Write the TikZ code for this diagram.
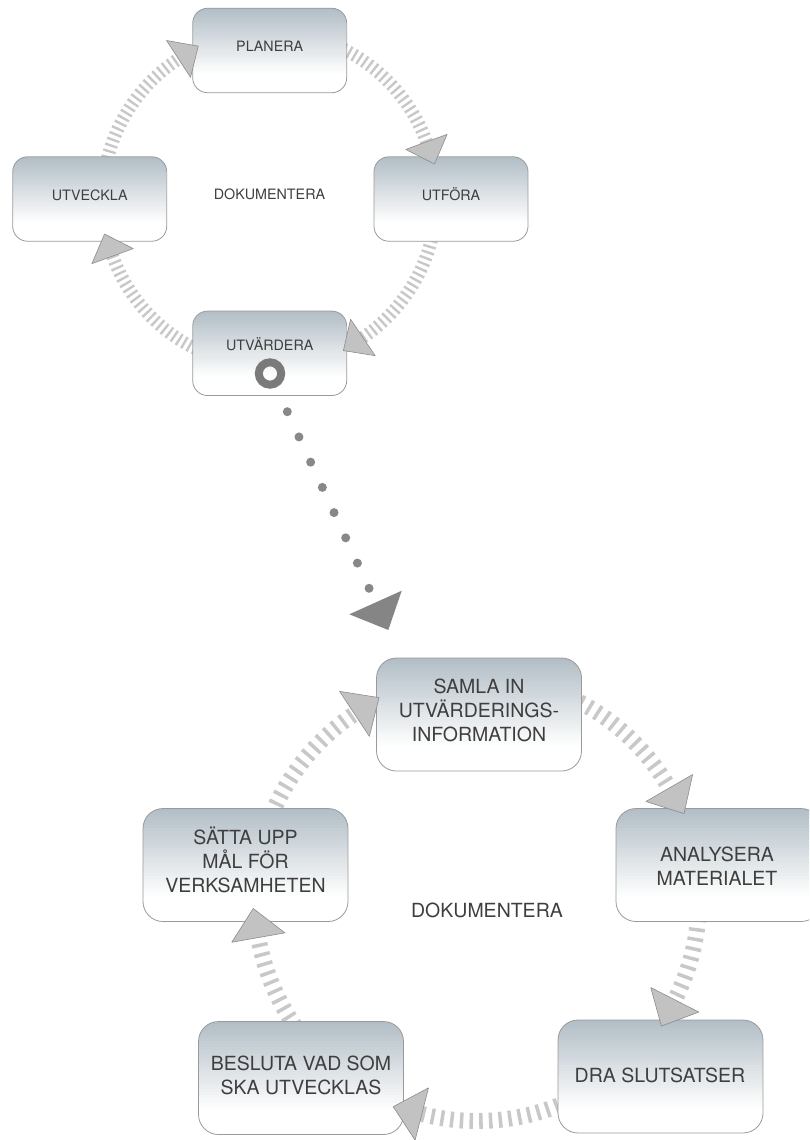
\documentclass[tikz,border=0pt]{standalone}
\usepackage{fontspec}
\setmainfont{TeX Gyre Heros}
\usetikzlibrary{calc}
\definecolor{boxtop}{HTML}{B2BEC6}
\definecolor{boxline}{HTML}{9A9A9A}
\definecolor{stripe}{HTML}{C8C8C8}
\definecolor{headfill}{HTML}{C2C2C2}
\definecolor{headline}{HTML}{8C8C8C}
\definecolor{txt}{HTML}{3E3E3E}
\definecolor{dotc}{HTML}{888888}
\definecolor{bighead}{HTML}{858585}
\definecolor{ringcol}{HTML}{7A7A7A}
\newcommand{\headtri}[6]{\filldraw[#6] ($(#1)+(#2:{#3+#4})$) -- ($(#1)+(#2:{#3-#4})$) -- ($(#1)+(#2:#3)+({#2+90}:#5)$) -- cycle;}
\begin{document}
\begin{tikzpicture}[x=1pt,y=-1pt,
  gradfill/.style={path picture={%
    \foreach \k in {0,...,40}{%
      \pgfmathsetmacro\pc{max(0,100*(1-\k/31))}%
      \fill[boxtop!\pc!white, sharp corners] ($(path picture bounding box.north west)!{\k/40}!(path picture bounding box.south west)$) rectangle ($(path picture bounding box.north east)!{(\k+1.2)/40}!(path picture bounding box.south east)$);
    }}},
  smallbox/.style={draw=boxline, line width=0.8pt, rounded corners=15pt, gradfill, minimum width=154pt, minimum height=84.5pt, inner sep=0pt},
  bigbox/.style={smallbox, rounded corners=20pt, minimum width=205pt, minimum height=113pt},
  smalltext/.style={anchor=base, inner sep=0pt, text=txt, font=\fontsize{14.3}{17}\selectfont},
  bigtext/.style={anchor=center, inner sep=0pt, text=txt, align=center, font=\fontsize{19.5}{24}\selectfont},
  stripeS/.style={draw=stripe, line width=13pt, dash pattern=on 2.4pt off 3.6pt},
  stripeL/.style={draw=stripe, line width=16pt, dash pattern=on 3.5pt off 6.2pt},
  headstyle/.style={fill=headfill, draw=headline, line width=0.6pt, line join=round},
  dotline/.style={draw=dotc, line width=9pt, line cap=round, dash pattern=on 0pt off 27.8pt},
  bigheadstyle/.style={fill=bighead},
  ringstyle/.style={draw=ringcol, line width=8pt}]
\useasboundingbox (0,0) rectangle (809,1140);
\clip (0,0) rectangle (809,1140);
\coordinate (c1) at (269.5,199);
\coordinate (c2) at (477,899);
% top cycle arcs
\draw[stripeS] (c1) ++(190:167) arc[start angle=190,end angle=237,radius=167];
\draw[stripeS] (c1) ++(292:167) arc[start angle=292,end angle=340,radius=167];
\draw[stripeS] (c1) ++(10:167) arc[start angle=10,end angle=56,radius=167];
\draw[stripeS] (c1) ++(112:167) arc[start angle=112,end angle=160,radius=167];
% bottom cycle arcs
\draw[stripeL] (c2) ++(200:222) arc[start angle=200,end angle=236.5,radius=222];
\draw[stripeL] (c2) ++(295:222) arc[start angle=295,end angle=330,radius=222];
\draw[stripeL] (c2) ++(0:222) arc[start angle=0,end angle=27,radius=222];
\draw[stripeL] (c2) ++(66:222) arc[start angle=66,end angle=104.4,radius=222];
\draw[stripeL] (c2) ++(140:222) arc[start angle=140,end angle=170,radius=222];
% boxes
\node[smallbox] (planera) at (269.7,50.5) {};
\node[smallbox] (utfora) at (451,199) {};
\node[smallbox] (utveckla) at (89.7,199) {};
\node[smallbox] (utvardera) at (269.7,353.3) {};
\node[bigbox] (samla) at (479,714.5) {};
\node[bigbox] (analys) at (718.5,865) {};
\node[bigbox] (dra) at (660.5,1076.5) {};
\node[bigbox] (besluta) at (301,1078) {};
\node[bigbox] (satta) at (245.5,865) {};
% texts
\node[smalltext] (tplanera) at (269.7,51.7) {PLANERA};
\node[smalltext] (tutfora) at (451,200) {UTFÖRA};
\node[smalltext] (tutveckla) at (89.7,200) {UTVECKLA};
\node[smalltext] (tutvardera) at (269.7,350) {UTVÄRDERA};
\node[smalltext] (tdok1) at (269.5,199.5) {DOKUMENTERA};
\node[bigtext] (tsamla) at (479,710.8) {SAMLA IN\\UTVÄRDERINGS-\\INFORMATION};
\node[bigtext] (tanalys) at (717,865.8) {ANALYSERA\\MATERIALET};
\node[bigtext] (tdra) at (660,1075.5) {DRA SLUTSATSER};
\node[bigtext] (tbesluta) at (301,1075) {BESLUTA VAD SOM\\SKA UTVECKLAS};
\node[bigtext] (tsatta) at (245.5,860) {SÄTTA UPP\\MÅL FÖR\\VERKSAMHETEN};
\node[bigtext] (tdok2) at (487,910) {DOKUMENTERA};
% ring
\coordinate (ring) at (270,373.5);
\draw[ringstyle] (ring) circle[radius=11.2];
% arrowheads top
\headtri{c1}{237}{167}{22}{23.5}{headstyle}
\headtri{c1}{340}{167}{22}{23.5}{headstyle}
\headtri{c1}{56}{167}{22}{23.5}{headstyle}
\headtri{c1}{160}{167}{22}{23.5}{headstyle}
% arrowheads bottom
\headtri{c2}{236.5}{222}{27}{29.5}{headstyle}
\headtri{c2}{330}{222}{27}{29.5}{headstyle}
\headtri{c2}{27}{222}{27}{29.5}{headstyle}
\headtri{c2}{104.4}{222}{27}{29.5}{headstyle}
\headtri{c2}{170}{222}{27}{29.5}{headstyle}
% dotted connector
\coordinate (dA) at (287.3,411.7);
\coordinate (dB) at (369.9,590.1);
\draw[dotline] (dA) -- (dB);
\coordinate (bt1) at (349.3,614.3);
\coordinate (bt2) at (401.7,590.7);
\coordinate (btip) at (388.3,630);
\fill[bigheadstyle] (bt1) -- (bt2) -- (btip) -- cycle;
\end{tikzpicture}
\end{document}
